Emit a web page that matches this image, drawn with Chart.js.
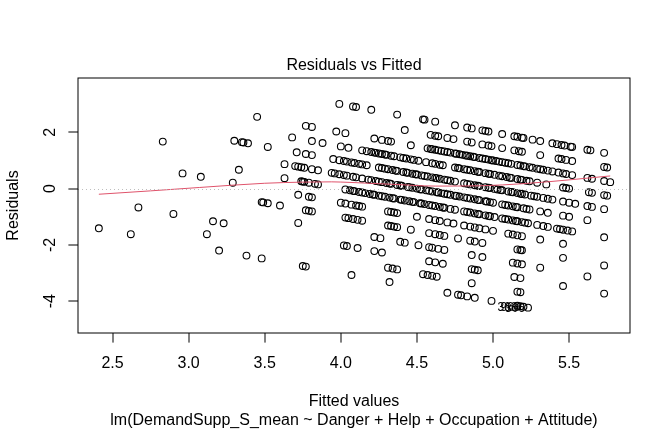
<!DOCTYPE html>
<html>
<head>
<meta charset="utf-8">
<script src="https://cdn.jsdelivr.net/npm/chart.js@4.4.1/dist/chart.umd.min.js"></script>
<style>
html,body{margin:0;padding:0;background:#ffffff;}
#c{display:block;}
</style>
</head>
<body>
<canvas id="c" width="672" height="432"></canvas>
<script>
const fitted_70 = [3.99,4.08,4.10,4.20,4.37,4.54,4.55,4.62,4.75,4.83,4.86,4.93,4.95,4.97,5.06,5.14,5.16,5.19,5.20,5.26,5.31,5.39,5.42,5.45,5.47,5.51,5.52,5.62,5.64,5.73];
const resid_70  = [3.01,2.92,2.90,2.80,2.63,2.46,2.45,2.38,2.25,2.17,2.14,2.07,2.05,2.03,1.94,1.86,1.84,1.81,1.80,1.74,1.69,1.61,1.58,1.55,1.53,1.49,1.48,1.38,1.36,1.27];

const fitted_65 = [4.42,4.59,4.62,4.64,4.70,4.74,4.83,4.86,4.93,4.97,4.99,5.06,5.14,5.17,5.19,5.31,5.43,5.45,5.48,5.52,5.73,5.75];
const resid_65  = [2.08,1.91,1.88,1.86,1.80,1.76,1.67,1.64,1.57,1.53,1.51,1.44,1.36,1.33,1.31,1.19,1.07,1.05,1.02,0.98,0.77,0.75];

const fitted_60 = [3.45,3.77,3.81,3.97,4.03,4.22,4.27,4.31,4.33,4.46,4.57,4.60,4.62,4.64,4.66,4.68,4.72,4.75,4.78,4.80,4.83,4.85,4.88,4.91,4.95,4.97,4.99,5.02,5.04,5.08,5.12,5.16,5.18,5.21,5.26,5.29,5.33,5.36,5.39,5.43,5.46,5.48,5.52,5.62,5.65,5.73,5.77,
                   4.59,4.70,4.76,4.82,4.87,4.93,5.00,5.06,5.10,5.20,5.24,5.31];
const resid_60  = [2.55,2.23,2.19,2.03,1.97,1.78,1.73,1.69,1.67,1.54,1.43,1.40,1.38,1.36,1.34,1.32,1.28,1.25,1.22,1.20,1.17,1.15,1.12,1.09,1.05,1.03,1.01,0.98,0.96,0.92,0.88,0.84,0.82,0.79,0.74,0.71,0.67,0.64,0.61,0.57,0.54,0.52,0.48,0.38,0.35,0.27,0.23,
                   1.41,1.30,1.24,1.18,1.13,1.07,1.00,0.94,0.90,0.80,0.76,0.69];

const fitted_55 = [3.68,3.81,3.88,4.00,4.05,4.14,4.17,4.20,4.23,4.25,4.27,4.30,4.33,4.39,4.43,4.46,4.48,4.51,4.56,4.60,4.62,4.65,4.67,4.75,4.78,4.81,4.85,4.88,4.91,4.95,4.98,5.01,5.06,5.09,5.12,5.16,5.19,5.22,5.24,5.29,5.35,5.46,5.48,5.50,5.63,5.65,5.73,5.75,
                   4.22,4.29,4.35,4.41,4.77,4.83,4.90,4.97,5.04,5.11,5.18];
const resid_55  = [1.82,1.69,1.62,1.50,1.45,1.36,1.33,1.30,1.27,1.25,1.23,1.20,1.17,1.11,1.07,1.04,1.02,0.99,0.94,0.90,0.88,0.85,0.83,0.75,0.72,0.69,0.65,0.62,0.59,0.55,0.52,0.49,0.44,0.41,0.38,0.34,0.31,0.28,0.26,0.21,0.15,0.04,0.02,0.00,-0.13,-0.15,-0.23,-0.25,
                   1.28,1.21,1.15,1.09,0.73,0.67,0.60,0.53,0.46,0.39,0.32];

const fitted_50 = [3.30,3.35,3.36,3.39,3.52,3.71,3.77,3.81,3.95,3.99,4.02,4.04,4.07,4.09,4.12,4.14,4.17,4.25,4.27,4.31,4.34,4.37,4.41,4.44,4.47,4.50,4.53,4.57,4.60,4.63,4.65,4.68,4.72,4.75,4.81,4.85,4.88,4.91,4.95,4.98,5.01,5.03,5.06,5.10,5.13,5.16,5.19,5.21,5.25,5.29,5.33,5.36,5.39,5.46,5.50,5.54,5.62,5.65,5.73,
                   4.29,4.36,4.43,4.49,4.55,4.62,4.70,4.83,4.90,4.97,5.05,5.12,5.18,5.27];
const resid_50  = [1.70,1.65,1.64,1.61,1.48,1.29,1.23,1.19,1.05,1.01,0.98,0.96,0.93,0.91,0.88,0.86,0.83,0.75,0.73,0.69,0.66,0.63,0.59,0.56,0.53,0.50,0.47,0.43,0.40,0.37,0.35,0.32,0.28,0.25,0.19,0.15,0.12,0.09,0.05,0.02,-0.01,-0.03,-0.06,-0.10,-0.13,-0.16,-0.19,-0.21,-0.25,-0.29,-0.33,-0.36,-0.39,-0.46,-0.50,-0.54,-0.62,-0.65,-0.73,
                   0.71,0.64,0.57,0.51,0.45,0.38,0.30,0.17,0.10,0.03,-0.05,-0.12,-0.18,-0.27];

const fitted_45 = [2.83,3.63,3.70,3.72,3.74,3.76,3.81,3.85,3.94,3.96,3.99,4.02,4.04,4.08,4.10,4.14,4.18,4.20,4.23,4.27,4.30,4.33,4.37,4.40,4.44,4.47,4.50,4.53,4.56,4.60,4.63,4.66,4.68,4.72,4.75,4.78,4.81,4.85,4.88,4.91,4.95,4.98,5.00,5.06,5.10,5.13,5.16,5.20,5.22,5.24,5.31,5.36,5.46,5.50,5.62,
                   4.25,4.32,4.39,4.45,4.52,4.58,4.64,4.70,4.76,4.83,4.90,4.96,5.08,5.15];
const resid_45  = [1.67,0.87,0.80,0.78,0.76,0.74,0.69,0.65,0.56,0.54,0.51,0.48,0.46,0.42,0.40,0.36,0.32,0.30,0.27,0.23,0.20,0.17,0.13,0.10,0.06,0.03,0.00,-0.03,-0.06,-0.10,-0.13,-0.16,-0.18,-0.22,-0.25,-0.28,-0.31,-0.35,-0.38,-0.41,-0.45,-0.48,-0.50,-0.56,-0.60,-0.63,-0.66,-0.70,-0.72,-0.74,-0.81,-0.86,-0.96,-1.00,-1.12,
                   0.25,0.18,0.11,0.05,-0.02,-0.08,-0.14,-0.20,-0.26,-0.33,-0.40,-0.46,-0.58,-0.65];

const fitted_40 = [3.33,3.63,3.74,3.75,3.76,3.79,3.83,3.85,4.03,4.06,4.09,4.12,4.16,4.19,4.22,4.25,4.29,4.32,4.35,4.39,4.42,4.45,4.48,4.52,4.55,4.58,4.62,4.65,4.68,4.72,4.75,4.81,4.85,4.88,4.91,4.95,4.98,5.01,5.06,5.10,5.13,5.16,5.19,5.21,5.23,5.29,5.33,5.36,5.42,5.44,5.46,5.49,5.52,5.73,
                   4.08,4.14,4.21,4.27,4.34,4.40,4.47,4.53,4.60,4.67,4.83,4.90,4.97,5.08,5.15];
const resid_40  = [0.67,0.37,0.26,0.25,0.24,0.21,0.17,0.15,-0.03,-0.06,-0.09,-0.12,-0.16,-0.19,-0.22,-0.25,-0.29,-0.32,-0.35,-0.39,-0.42,-0.45,-0.48,-0.52,-0.55,-0.58,-0.62,-0.65,-0.68,-0.72,-0.75,-0.81,-0.85,-0.88,-0.91,-0.95,-0.98,-1.01,-1.06,-1.10,-1.13,-1.16,-1.19,-1.21,-1.23,-1.29,-1.33,-1.36,-1.42,-1.44,-1.46,-1.49,-1.52,-1.73,
                   -0.08,-0.14,-0.21,-0.27,-0.34,-0.40,-0.47,-0.53,-0.60,-0.67,-0.83,-0.90,-0.97,-1.08,-1.15];

const fitted_35 = [2.96,3.08,3.29,3.72,3.79,3.81,4.00,4.03,4.07,4.10,4.12,4.14,4.31,4.33,4.35,4.37,4.50,4.58,4.62,4.65,4.70,4.74,4.81,4.85,4.88,4.91,4.95,5.00,5.10,5.13,5.16,5.19,5.31,5.46];
const resid_35  = [0.54,0.42,0.21,-0.22,-0.29,-0.31,-0.50,-0.53,-0.57,-0.60,-0.62,-0.64,-0.81,-0.83,-0.85,-0.87,-1.00,-1.08,-1.12,-1.15,-1.20,-1.24,-1.31,-1.35,-1.38,-1.41,-1.45,-1.50,-1.60,-1.63,-1.66,-1.69,-1.81,-1.96];

const fitted_30 = [3.48,3.49,3.52,3.60,3.77,3.79,3.81,4.03,4.05,4.08,4.11,4.14,4.31,4.33,4.35,4.37,4.46,4.58,4.62,4.65,4.68,4.77,4.85,4.88,4.93,5.16,5.18,5.19,5.46,5.73];
const resid_30  = [-0.48,-0.49,-0.52,-0.60,-0.77,-0.79,-0.81,-1.03,-1.05,-1.08,-1.11,-1.14,-1.31,-1.33,-1.35,-1.37,-1.46,-1.58,-1.62,-1.65,-1.68,-1.77,-1.85,-1.88,-1.93,-2.16,-2.18,-2.19,-2.46,-2.73];

const fitted_25 = [3.72,4.22,4.26,4.39,4.42,4.51,4.58,4.60,4.64,4.68,4.86,4.93,5.13,5.16,5.19,5.31,5.62];
const resid_25  = [-1.22,-1.72,-1.76,-1.89,-1.92,-2.01,-2.08,-2.10,-2.14,-2.18,-2.36,-2.43,-2.63,-2.66,-2.69,-2.81,-3.12];

const fitted_20 = [2.67,2.90,3.16,3.23,4.02,4.04,4.11,4.22,4.27,4.58,4.62,4.67,4.86,4.88,4.90,5.14,5.18,5.46,5.73];
const resid_20  = [-0.67,-0.90,-1.16,-1.23,-2.02,-2.04,-2.11,-2.22,-2.27,-2.58,-2.62,-2.67,-2.86,-2.88,-2.90,-3.14,-3.18,-3.46,-3.73];

const fitted_15 = [3.12,4.31,4.34,4.37,4.54,4.57,4.60,4.63,4.86,5.16,5.18];
const resid_15  = [-1.62,-2.81,-2.84,-2.87,-3.04,-3.07,-3.10,-3.13,-3.36,-3.66,-3.68];

const fitted_10 = [2.41,2.62,3.20,3.38,3.48,3.75,3.77,4.07,4.32,4.70,4.77,4.79,4.83,4.88,4.99,5.16,5.18,5.20,5.23];
const resid_10  = [-1.41,-1.62,-2.20,-2.38,-2.48,-2.75,-2.77,-3.07,-3.32,-3.70,-3.77,-3.79,-3.83,-3.88,-3.99,-4.16,-4.18,-4.20,-4.23];

// smoother (red line)
const lowessX = [2.41,2.75,3.07,3.50,3.75,3.94,4.06,4.35,4.62,4.91,5.21,5.50,5.77];
const lowessY = [-0.20,-0.08,0.04,0.19,0.23,0.24,0.22,0.15,0.09,0.10,0.18,0.31,0.45];

// labels of the three most extreme residuals
const idLabels = ["306","968","368"];

// axis ticks and texts
const xTickValues = [2.5,3.0,3.5,4.0,4.5,5.0,5.5];
const xTickLabels = ["2.5","3.0","3.5","4.0","4.5","5.0","5.5"];
const yTickValues = [-4,-2,0,2];
const yTickLabels = ["-4","-2","0","2"];
const titleText = "Residuals vs Fitted";
const xAxisTitle = "Fitted values";
const yAxisTitle = "Residuals";
const subTitle = "lm(DemandSupp_S_mean ~ Danger + Help + Occupation + Attitude)";

// ---- build point table ----
const bands = [
  [fitted_70,resid_70],[fitted_65,resid_65],[fitted_60,resid_60],[fitted_55,resid_55],
  [fitted_50,resid_50],[fitted_45,resid_45],[fitted_40,resid_40],[fitted_35,resid_35],
  [fitted_30,resid_30],[fitted_25,resid_25],[fitted_20,resid_20],[fitted_15,resid_15],[fitted_10,resid_10]
];
const points = [];
bands.forEach(([fx, ry]) => fx.forEach((v, i) => points.push({x: v, y: ry[i]})));
const lowessData = lowessX.map((v, i) => ({x: v, y: lowessY[i]}));
const extreme = points.slice().sort((a, b) => Math.abs(b.y) - Math.abs(a.y)).slice(0, idLabels.length);

const FONT = '"Liberation Sans", Arial, Helvetica, sans-serif';

const rPlot = {
  id: 'rPlot',
  afterDatasetsDraw(chart) {
    const {ctx, chartArea: a, scales: {x, y}} = chart;
    ctx.save();
    ctx.beginPath(); ctx.rect(a.left, a.top, a.right - a.left, a.bottom - a.top); ctx.clip();
    ctx.strokeStyle = '#BEBEBE'; ctx.lineWidth = 1; ctx.setLineDash([1, 3]);
    const y0 = Math.round(y.getPixelForValue(0)) + 0.5;
    ctx.beginPath(); ctx.moveTo(a.left, y0); ctx.lineTo(a.right, y0); ctx.stroke();
    ctx.restore();
  },
  afterDraw(chart) {
    const {ctx, chartArea: a, scales: {x, y}} = chart;
    ctx.save();
    ctx.strokeStyle = '#000'; ctx.lineWidth = 1; ctx.fillStyle = '#000';
    ctx.strokeRect(a.left, a.top, a.right - a.left, a.bottom - a.top);
    const tick = 9.6;
    ctx.beginPath();
    xTickValues.forEach(v => { const px = Math.round(x.getPixelForValue(v)); ctx.moveTo(px, a.bottom); ctx.lineTo(px, a.bottom + tick); });
    yTickValues.forEach(v => { const py = Math.round(y.getPixelForValue(v)); ctx.moveTo(a.left, py); ctx.lineTo(a.left - tick, py); });
    ctx.stroke();
    ctx.font = '16px ' + FONT;
    ctx.textAlign = 'center'; ctx.textBaseline = 'alphabetic';
    xTickValues.forEach((v, i) => ctx.fillText(xTickLabels[i], x.getPixelForValue(v), a.bottom + 34.6));
    yTickValues.forEach((v, i) => {
      ctx.save(); ctx.translate(a.left - 23, y.getPixelForValue(v)); ctx.rotate(-Math.PI / 2);
      ctx.fillText(yTickLabels[i], 0, 0); ctx.restore();
    });
    const cx = (a.left + a.right) / 2, cy = (a.top + a.bottom) / 2;
    ctx.fillText(xAxisTitle, cx, a.bottom + 73);
    ctx.fillText(subTitle, cx, a.bottom + 92.2);
    ctx.fillText(titleText, cx, a.top - 8.5);
    ctx.save(); ctx.translate(a.left - 60, cy); ctx.rotate(-Math.PI / 2);
    ctx.fillText(yAxisTitle, 0, 0); ctx.restore();
    ctx.font = '12px ' + FONT; ctx.textAlign = 'right';
    extreme.forEach((p, i) => ctx.fillText(idLabels[i], x.getPixelForValue(p.x) - 3, y.getPixelForValue(p.y) + 4.5));
    ctx.restore();
  }
};

new Chart(document.getElementById('c'), {
  type: 'scatter',
  data: {
    datasets: [
      { type: 'line', data: lowessData, borderColor: '#DF536B', borderWidth: 1, pointRadius: 0, fill: false, cubicInterpolationMode: 'monotone' },
      { type: 'scatter', data: points, pointRadius: 3.4, pointHoverRadius: 3.4, borderWidth: 1.1, borderColor: '#000000', backgroundColor: 'rgba(0,0,0,0)', pointStyle: 'circle' }
    ]
  },
  options: {
    responsive: false, animation: false, devicePixelRatio: 1,
    layout: { padding: { left: 78, right: 42, top: 78, bottom: 99 } },
    scales: {
      x: { type: 'linear', display: false, min: 2.273, max: 5.90 },
      y: { type: 'linear', display: false, min: -5.13, max: 3.93 }
    },
    plugins: { legend: { display: false }, tooltip: { enabled: false }, title: { display: false } }
  },
  plugins: [rPlot]
});
</script>
</body>
</html>
